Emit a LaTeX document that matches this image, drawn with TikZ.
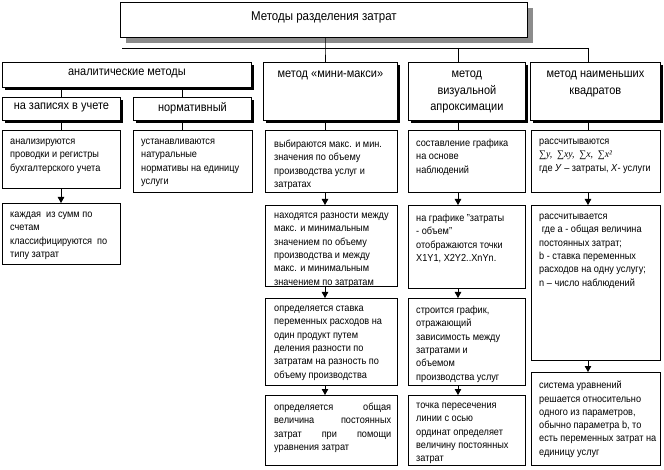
\documentclass[tikz,border=0pt]{standalone}
\usepackage{fontspec}
\setmainfont[FakeStretch=0.90]{Liberation Sans}
\newfontfamily\serifit[FakeStretch=0.95]{Liberation Serif}
\usetikzlibrary{arrows.meta}
\tikzset{
  bx/.style={draw, line width=0.8pt, fill=white, inner sep=0pt, anchor=north west},
  tx/.style={inner sep=0pt, anchor=north west, align=left, font=\fontsize{10.2}{13.3}\selectfont},
  hd/.style={inner sep=0pt, anchor=north, align=center, font=\fontsize{12.2}{16.5}\selectfont},
  ln/.style={line width=0.8pt},
  ar/.style={line width=0.8pt, -{Triangle[width=6.5pt,length=6pt]}},
}
\newcommand\mkbox[5]{\node[bx, minimum width={#4pt-#2pt}, minimum height={#5pt-#3pt}] (#1) at (#2,#3) {};}
\newcommand\shbox[5]{\fill[black] (#2+3,#3+3) rectangle (#4+3,#5+3);\mkbox{#1}{#2}{#3}{#4}{#5}}
\newcommand\jl[1]{\makebox[117pt][s]{#1}}
\begin{document}
\begin{tikzpicture}[x=1pt,y=-1pt]
\useasboundingbox (0,0) rectangle (664,470);
% top
\fill[gray!90] (126,8) rectangle (533,43);
\mkbox{top}{120}{2}{527}{37}
\node[hd, anchor=center, font=\fontsize{12.8}{15}\selectfont] (topt) at ([yshift=2pt]top.center) {Методы разделения затрат};
% junction line
\coordinate (hL) at (122,48);
\coordinate (hR) at (588,48);
\coordinate (jA) at (325,48);
\coordinate (jB) at (458,48);
\coordinate (cL) at (61,0);
\coordinate (cN) at (182,0);
\draw[ln] (hL) -- (hR);
% row 2
\shbox{an}{2}{62}{251}{87}
\shbox{mm}{263}{62}{397}{120}
\shbox{vz}{408}{62}{525}{120}
\shbox{nm}{530}{62}{660}{120}
\shbox{zap}{2}{97}{120}{120}
\shbox{nor}{133}{97}{251}{120}
\node[hd, anchor=center] (ant) at ([yshift=1pt]an.center) {аналитические методы};
\node[hd] (mmt) at ([yshift=-9pt]mm.north) {метод «мини-макси»};
\node[hd] (vzt) at ([yshift=-9pt]vz.north) {метод\\визуальной\\апроксимации};
\node[hd] (nmt) at ([yshift=-9pt]nm.north) {метод наименьших\\квадратов};
\node[hd, anchor=center] (zapt) at ([yshift=1pt]zap.center) {на записях в учете};
\node[hd, anchor=center] (nort) at ([yshift=1pt]nor.center) {нормативный};
\draw[ln] (top.south -| jA) -- (jA) -- (mm.north -| jA);
\draw[ln] (jB) -- (vz.north -| jB);
\draw[ln] (hR) -- (nm.north -| hR);
\draw[ln] (an.south -| cL) -- (zap.north -| cL);
\draw[ln] (an.south -| cN) -- (nor.north -| cN);
% row 3 and below
\mkbox{a1}{2}{130}{120}{188}
\mkbox{a2}{2}{203}{120}{264}
\mkbox{n1}{133}{130}{252}{192}
\mkbox{m1}{265}{130}{397}{192}
\mkbox{m2}{265}{205}{397}{286}
\mkbox{m3}{265}{298}{397}{385}
\mkbox{m4}{265}{395}{397}{465}
\mkbox{v1}{408}{130}{525}{192}
\mkbox{v2}{408}{205}{525}{288}
\mkbox{v3}{408}{298}{525}{385}
\mkbox{v4}{408}{395}{525}{465}
\mkbox{s1}{531}{130}{660}{192}
\mkbox{s2}{531}{205}{660}{360}
\mkbox{s3}{531}{372}{660}{465}
\draw[ln] (zap.south -| cL) -- (a1.north -| cL);
\draw[ln] (nor.south -| cN) -- (n1.north -| cN);
\draw[ln] (mm.south -| jA) -- (m1.north -| jA);
\draw[ln] (vz.south -| jB) -- (v1.north -| jB);
\draw[ln] (nm.south -| hR) -- (s1.north -| hR);
\draw[ar] (a1.south -| cL) -- (a2.north -| cL);
\draw[ar] (m1.south -| jA) -- (m2.north -| jA);
\draw[ar] (m2.south -| jA) -- (m3.north -| jA);
\draw[ar] (m3.south -| jA) -- (m4.north -| jA);
\draw[ar] (v1.south -| jB) -- (v2.north -| jB);
\draw[ar] (v2.south -| jB) -- (v3.north -| jB);
\draw[ar] (v3.south -| jB) -- (v4.north -| jB);
\draw[ar] (s1.south -| hR) -- (s2.north -| hR);
\draw[ar] (s2.south -| hR) -- (s3.north -| hR);
% texts
\node[tx] (a1t) at ([xshift=8pt,yshift=-9pt]a1.north west) {анализируются\\проводки и регистры\\бухгалтерского учета};
\node[tx] (a2t) at ([xshift=8pt,yshift=-9pt]a2.north west) {каждая\ \ из сумм по\\счетам\\классифицируются\ \ по\\типу затрат};
\node[tx] (n1t) at ([xshift=8pt,yshift=-9pt]n1.north west) {устанавливаются\\натуральные\\нормативы на единицу\\услуги};
\node[tx] (m1t) at ([xshift=9pt,yshift=-10pt]m1.north west) {выбираются макс. и мин.\\значения по объему\\производства услуг и\\затратах};
\node[tx] (m2t) at ([xshift=9pt,yshift=-8pt]m2.north west) {находятся разности между\\макс. и минимальным\\значением по объему\\производства и между\\макс. и минимальным\\значением по затратам};
\node[tx] (m3t) at ([xshift=9pt,yshift=-8pt]m3.north west) {определяется ставка\\переменных расходов на\\один продукт путем\\деления разности по\\затратам на разность по\\объему производства};
\node[tx] (m4t) at ([xshift=9pt,yshift=-8pt]m4.north west) {\jl{определяется общая}\\\jl{величина постоянных}\\\jl{затрат при помощи}\\уравнения затрат};
\node[tx] (v1t) at ([xshift=8pt,yshift=-9pt]v1.north west) {составление графика\\на основе\\наблюдений};
\node[tx] (v2t) at ([xshift=8pt,yshift=-9pt]v2.north west) {на графике "затраты\\- объем"\\отображаются точки\\X1Y1, X2Y2..XnYn.};
\node[tx] (v3t) at ([xshift=8pt,yshift=-8pt]v3.north west) {строится график,\\отражающий\\зависимость между\\затратами и\\объемом\\производства услуг};
\node[tx] (v4t) at ([xshift=8pt,yshift=-8pt]v4.north west) {точка пересечения\\линии с осью\\ординат определяет\\величину постоянных\\затрат};
\node[tx] (s1t) at ([xshift=8pt,yshift=-9pt]s1.north west) {рассчитываются\\{\serifit\itshape ∑y,\ \ ∑xy,\ \ ∑x,\ \ ∑x²}\\где \textit{У} – затраты, \textit{Х}- услуги};
\node[tx] (s2t) at ([xshift=8pt,yshift=-9pt]s2.north west) {рассчитывается\\\ где а - общая величина\\постоянных затрат;\\b - ставка переменных\\расходов на одну услугу;\\n – число наблюдений};
\node[tx] (s3t) at ([xshift=8pt,yshift=-9pt]s3.north west) {система уравнений\\решается относительно\\одного из параметров,\\обычно параметра b, то\\есть переменных затрат на\\единицу услуг};
\end{tikzpicture}
\end{document}
